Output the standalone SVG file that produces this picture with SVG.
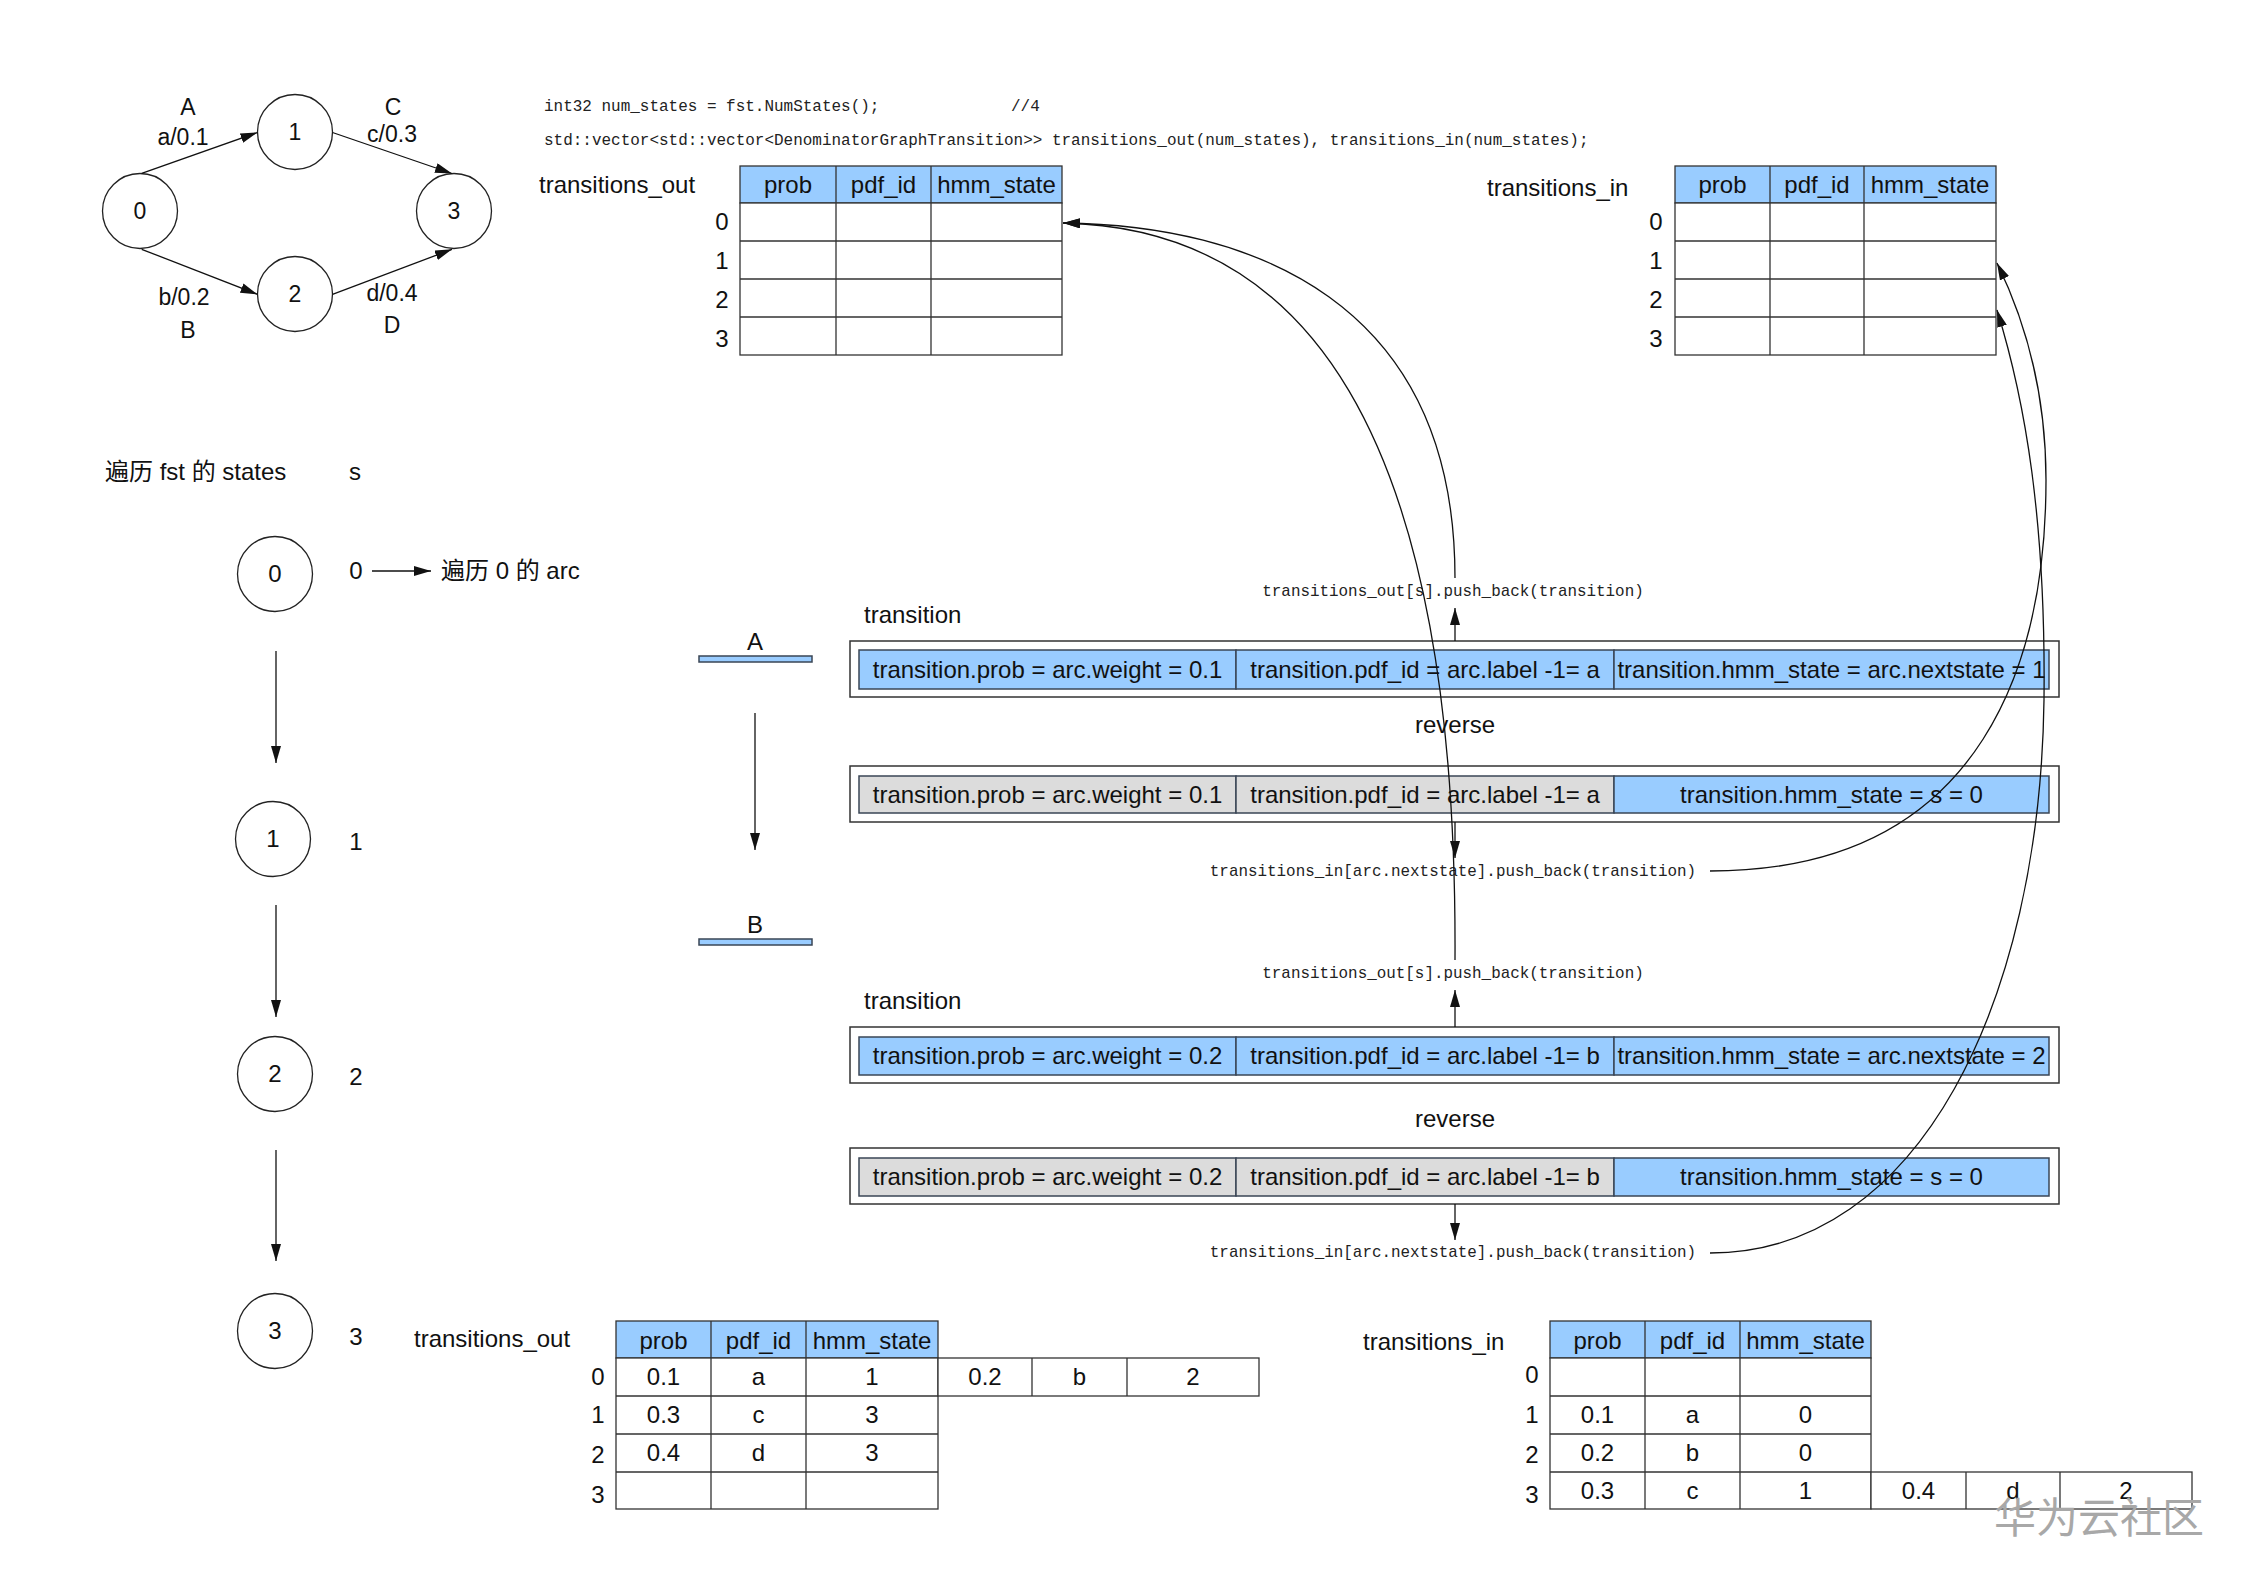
<svg xmlns="http://www.w3.org/2000/svg" width="2245" height="1588" viewBox="0 0 2245 1588">
<style>
.t{font-family:"Liberation Sans",Arial,"Noto Sans CJK SC",sans-serif;font-size:24px;fill:#111}
.g{font-size:23px}
.c{text-anchor:middle}
.m{font-family:"Liberation Mono","Courier New",monospace;fill:#222}
.code{font-size:15.97px}
.lab{font-size:15.9px;text-anchor:middle}
.node{fill:#fff;stroke:#222;stroke-width:1.3}
.hdr{fill:#99ccff;stroke:#333;stroke-width:1.3}
.body{fill:#fff;stroke:#333;stroke-width:1.3}
.grid{fill:none;stroke:#333;stroke-width:1.3}
.frame{fill:#fff;stroke:#333;stroke-width:1.5}
.blue{fill:#99ccff;stroke:#3a4656;stroke-width:1.5}
.gray{fill:#dcdcdc;stroke:#3a4656;stroke-width:1.5}
.bar{fill:#99ccff;stroke:#3a4656;stroke-width:1.5}
.edge{fill:none;stroke:#111;stroke-width:1.3;marker-end:url(#arr)}
.wm{font-family:"Noto Sans CJK SC",sans-serif;font-size:42px;fill:#a8a8a8}
</style>
<defs>
<marker id="arr" viewBox="0 0 17 10" refX="17" refY="5" markerWidth="17" markerHeight="10" markerUnits="userSpaceOnUse" orient="auto">
<path d="M0,0 L17,5 L0,10 z" fill="#111"/>
</marker>
</defs>
<rect x="0" y="0" width="2245" height="1588" fill="#fff"/>

<!-- top-left FST graph -->
<g id="fst-node-0"><circle class="node" cx="140" cy="211" r="37.5"/><text class="t g c" x="140" y="219">0</text></g>
<g id="fst-node-1"><circle class="node" cx="295" cy="132" r="37.5"/><text class="t g c" x="295" y="140">1</text></g>
<g id="fst-node-2"><circle class="node" cx="295" cy="294" r="37.5"/><text class="t g c" x="295" y="302">2</text></g>
<g id="fst-node-3"><circle class="node" cx="454" cy="211" r="37.5"/><text class="t g c" x="454" y="219">3</text></g>
<g id="fst-labels">
<text class="t g c" x="188" y="115">A</text>
<text class="t g c" x="183" y="145">a/0.1</text>
<text class="t g c" x="393" y="115">C</text>
<text class="t g c" x="392" y="142">c/0.3</text>
<text class="t g c" x="184" y="305">b/0.2</text>
<text class="t g c" x="188" y="338">B</text>
<text class="t g c" x="392" y="301">d/0.4</text>
<text class="t g c" x="392" y="333">D</text>
</g>

<!-- code -->
<g id="code">
<text class="m code" x="544" y="111">int32 num_states = fst.NumStates();</text>
<text class="m code" x="1011" y="111">//4</text>
<text class="m code" x="544" y="145">std::vector&lt;std::vector&lt;DenominatorGraphTransition&gt;&gt; transitions_out(num_states), transitions_in(num_states);</text>
</g>

<!-- top tables -->
<g id="table-out-top">
<text class="t" x="539" y="193">transitions_out</text>
<rect class="hdr" x="740" y="166" width="322" height="37"/>
<rect class="body" x="740" y="203" width="322" height="152"/>
<path class="grid" d="M836,166V355 M931,166V355 M740,241H1062 M740,279H1062 M740,317H1062"/>
<text class="t c" x="788" y="193">prob</text>
<text class="t c" x="883.5" y="193">pdf_id</text>
<text class="t c" x="996.5" y="193">hmm_state</text>
<text class="t c" x="722" y="230">0</text>
<text class="t c" x="722" y="269">1</text>
<text class="t c" x="722" y="308">2</text>
<text class="t c" x="722" y="347">3</text>
</g>
<g id="table-in-top">
<text class="t" x="1487" y="196">transitions_in</text>
<rect class="hdr" x="1675" y="166" width="321" height="37"/>
<rect class="body" x="1675" y="203" width="321" height="152"/>
<path class="grid" d="M1770,166V355 M1864,166V355 M1675,241H1996 M1675,279H1996 M1675,317H1996"/>
<text class="t c" x="1722.5" y="193">prob</text>
<text class="t c" x="1817" y="193">pdf_id</text>
<text class="t c" x="1930" y="193">hmm_state</text>
<text class="t c" x="1656" y="230">0</text>
<text class="t c" x="1656" y="269">1</text>
<text class="t c" x="1656" y="308">2</text>
<text class="t c" x="1656" y="347">3</text>
</g>

<!-- left column -->
<g id="states-title">
<text class="t" x="105" y="480">遍历 fst 的 states</text>
<text class="t c" x="355" y="480">s</text>
</g>
<g id="state-0"><circle class="node" cx="275" cy="574" r="37.5"/><text class="t c" x="275" y="582">0</text><text class="t c" x="356" y="579">0</text></g>
<g id="arc-loop-label"><text class="t" x="441" y="579">遍历 0 的 arc</text></g>
<g id="state-1"><circle class="node" cx="273" cy="839" r="37.5"/><text class="t c" x="273" y="847">1</text><text class="t c" x="356" y="850">1</text></g>
<g id="state-2"><circle class="node" cx="275" cy="1074" r="37.5"/><text class="t c" x="275" y="1082">2</text><text class="t c" x="356" y="1085">2</text></g>
<g id="state-3"><circle class="node" cx="275" cy="1331" r="37.5"/><text class="t c" x="275" y="1339">3</text><text class="t c" x="356" y="1345">3</text></g>

<!-- arcs A / B -->
<g id="arc-A"><text class="t c" x="755" y="650">A</text><rect class="bar" x="699" y="656" width="113" height="6"/></g>
<g id="arc-B"><text class="t c" x="755" y="933">B</text><rect class="bar" x="699" y="939" width="113" height="6"/></g>

<!-- transition boxes -->
<g id="transition-A">
<text class="t" x="864" y="623">transition</text>
<rect class="frame" x="850" y="641" width="1209" height="56"/>
<rect class="blue" x="859" y="650" width="377" height="39"/>
<rect class="blue" x="1236" y="650" width="378" height="39"/>
<rect class="blue" x="1614" y="650" width="435" height="39"/>
<text class="t c" x="1047.5" y="678">transition.prob = arc.weight = 0.1</text>
<text class="t c" x="1425" y="678">transition.pdf_id = arc.label -1= a</text>
<text class="t c" x="1831.5" y="678">transition.hmm_state = arc.nextstate = 1</text>
</g>
<g id="reverse-A">
<text class="t c" x="1455" y="733">reverse</text>
<rect class="frame" x="850" y="766" width="1209" height="56"/>
<rect class="gray" x="859" y="776" width="377" height="37"/>
<rect class="gray" x="1236" y="776" width="378" height="37"/>
<rect class="blue" x="1614" y="776" width="435" height="37"/>
<text class="t c" x="1047.5" y="803">transition.prob = arc.weight = 0.1</text>
<text class="t c" x="1425" y="803">transition.pdf_id = arc.label -1= a</text>
<text class="t c" x="1831.5" y="803">transition.hmm_state = s = 0</text>
</g>
<g id="transition-B">
<text class="t" x="864" y="1009">transition</text>
<rect class="frame" x="850" y="1027" width="1209" height="56"/>
<rect class="blue" x="859" y="1037" width="377" height="38"/>
<rect class="blue" x="1236" y="1037" width="378" height="38"/>
<rect class="blue" x="1614" y="1037" width="435" height="38"/>
<text class="t c" x="1047.5" y="1064">transition.prob = arc.weight = 0.2</text>
<text class="t c" x="1425" y="1064">transition.pdf_id = arc.label -1= b</text>
<text class="t c" x="1831.5" y="1064">transition.hmm_state = arc.nextstate = 2</text>
</g>
<g id="reverse-B">
<text class="t c" x="1455" y="1127">reverse</text>
<rect class="frame" x="850" y="1148" width="1209" height="56"/>
<rect class="gray" x="859" y="1158" width="377" height="38"/>
<rect class="gray" x="1236" y="1158" width="378" height="38"/>
<rect class="blue" x="1614" y="1158" width="435" height="38"/>
<text class="t c" x="1047.5" y="1185">transition.prob = arc.weight = 0.2</text>
<text class="t c" x="1425" y="1185">transition.pdf_id = arc.label -1= b</text>
<text class="t c" x="1831.5" y="1185">transition.hmm_state = s = 0</text>
</g>

<!-- push_back labels -->
<g id="push-out-A"><text class="m lab" x="1453" y="596">transitions_out[s].push_back(transition)</text></g>
<g id="push-in-A"><text class="m lab" x="1453" y="876">transitions_in[arc.nextstate].push_back(transition)</text></g>
<g id="push-out-B"><text class="m lab" x="1453" y="978">transitions_out[s].push_back(transition)</text></g>
<g id="push-in-B"><text class="m lab" x="1453" y="1257">transitions_in[arc.nextstate].push_back(transition)</text></g>

<!-- bottom tables -->
<g id="table-out-bottom">
<text class="t" x="414" y="1347">transitions_out</text>
<rect class="hdr" x="616" y="1321" width="322" height="37"/>
<rect class="body" x="616" y="1358" width="322" height="151"/>
<rect class="body" x="938" y="1358" width="321" height="38"/>
<path class="grid" d="M711,1321V1509 M806,1321V1509 M616,1396H938 M616,1434H938 M616,1472H938 M1032,1358V1396 M1127,1358V1396"/>
<text class="t c" x="663.5" y="1349">prob</text>
<text class="t c" x="758.5" y="1349">pdf_id</text>
<text class="t c" x="872" y="1349">hmm_state</text>
<text class="t c" x="598" y="1385">0</text>
<text class="t c" x="598" y="1423">1</text>
<text class="t c" x="598" y="1463">2</text>
<text class="t c" x="598" y="1503">3</text>
<text class="t c" x="663.5" y="1385">0.1</text><text class="t c" x="758.5" y="1385">a</text><text class="t c" x="872" y="1385">1</text>
<text class="t c" x="985" y="1385">0.2</text><text class="t c" x="1079.5" y="1385">b</text><text class="t c" x="1193" y="1385">2</text>
<text class="t c" x="663.5" y="1423">0.3</text><text class="t c" x="758.5" y="1423">c</text><text class="t c" x="872" y="1423">3</text>
<text class="t c" x="663.5" y="1461">0.4</text><text class="t c" x="758.5" y="1461">d</text><text class="t c" x="872" y="1461">3</text>
</g>
<g id="table-in-bottom">
<text class="t" x="1363" y="1350">transitions_in</text>
<rect class="hdr" x="1550" y="1321" width="321" height="37"/>
<rect class="body" x="1550" y="1358" width="321" height="151"/>
<rect class="body" x="1871" y="1472" width="321" height="37"/>
<path class="grid" d="M1645,1321V1509 M1740,1321V1509 M1550,1396H1871 M1550,1434H1871 M1550,1472H1871 M1966,1472V1509 M2060,1472V1509"/>
<text class="t c" x="1597.5" y="1349">prob</text>
<text class="t c" x="1692.5" y="1349">pdf_id</text>
<text class="t c" x="1805.5" y="1349">hmm_state</text>
<text class="t c" x="1532" y="1383">0</text>
<text class="t c" x="1532" y="1423">1</text>
<text class="t c" x="1532" y="1463">2</text>
<text class="t c" x="1532" y="1503">3</text>
<text class="t c" x="1597.5" y="1423">0.1</text><text class="t c" x="1692.5" y="1423">a</text><text class="t c" x="1805.5" y="1423">0</text>
<text class="t c" x="1597.5" y="1461">0.2</text><text class="t c" x="1692.5" y="1461">b</text><text class="t c" x="1805.5" y="1461">0</text>
<text class="t c" x="1597.5" y="1499">0.3</text><text class="t c" x="1692.5" y="1499">c</text><text class="t c" x="1805.5" y="1499">1</text>
<text class="t c" x="1918.5" y="1499">0.4</text><text class="t c" x="2013" y="1499">d</text><text class="t c" x="2126" y="1499">2</text>
</g>

<!-- connectors -->
<g id="connectors">
<path class="edge" d="M141.7,173.3 L257.5,132.5"/>
<path class="edge" d="M332.5,132.5 L452,173.5"/>
<path class="edge" d="M141.7,249.3 L257.5,294.3"/>
<path class="edge" d="M332.5,294.3 L452,249.3"/>
<path class="edge" d="M372,571 L431,571"/>
<path class="edge" d="M276,651 L276,763"/>
<path class="edge" d="M276,905 L276,1017"/>
<path class="edge" d="M276,1150 L276,1261"/>
<path class="edge" d="M755,713 L755,850"/>
<path class="edge" d="M1455,641 L1455,608"/>
<path class="edge" d="M1455,822 L1455,858"/>
<path class="edge" d="M1455,1027 L1455,990"/>
<path class="edge" d="M1455,1204 L1455,1240"/>
<path class="edge" d="M1455,578 C1455,300 1250,225 1063,223"/>
<path class="edge" d="M1455,960 C1458,420 1300,228 1063,223"/>
<path class="edge" d="M1710,871 C1990,871 2046,650 2046,480 C2046,380 2020,310 1997,263"/>
<path class="edge" d="M1710,1253 C1920,1253 2040,1000 2044,700 C2046,520 2025,400 1997,310"/>
</g>

<text class="wm" x="1994" y="1533">华为云社区</text>
</svg>
